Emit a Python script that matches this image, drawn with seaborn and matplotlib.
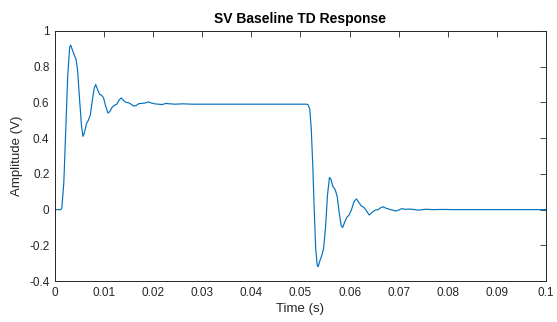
import matplotlib
matplotlib.use("Agg")
import matplotlib.pyplot as plt
import seaborn as sns
import pandas as pd

# Time-domain step response samples (time in seconds, amplitude in volts)
time_s = [
    0.0, 0.0012, 0.0014, 0.0018, 0.0022, 0.0026, 0.0030, 0.0032, 0.0036, 0.0040,
    0.0043, 0.0046, 0.0050, 0.0054, 0.0057, 0.0060, 0.0064, 0.0068, 0.0072, 0.0076,
    0.0080, 0.0083, 0.0087, 0.0091, 0.0095, 0.0099, 0.0103, 0.0108, 0.0112, 0.0117,
    0.0122, 0.0126, 0.0131, 0.0135, 0.0140, 0.0145, 0.0150, 0.0155, 0.0160, 0.0165,
    0.0171, 0.0178, 0.0184, 0.0190, 0.0196, 0.0203, 0.0210, 0.0218, 0.0226, 0.0234,
    0.0245, 0.0260, 0.0280, 0.0300, 0.0513, 0.0516, 0.0519, 0.0522, 0.0525, 0.0528,
    0.0531, 0.0534, 0.0536, 0.0539, 0.0543, 0.0547, 0.0551, 0.0555, 0.0559, 0.0562,
    0.0566, 0.0571, 0.0575, 0.0579, 0.0583, 0.0586, 0.0590, 0.0594, 0.0599, 0.0604,
    0.0609, 0.0614, 0.0619, 0.0624, 0.0629, 0.0634, 0.0640, 0.0646, 0.0652, 0.0658,
    0.0663, 0.0668, 0.0674, 0.0680, 0.0688, 0.0694, 0.0700, 0.0706, 0.0714, 0.0723,
    0.0733, 0.0740, 0.0755, 0.0770, 0.0790, 0.0810, 0.1000,
]
amplitude_v = [
    0.0, 0.0, 0.01, 0.15, 0.45, 0.75, 0.91, 0.92, 0.89, 0.86,
    0.84, 0.78, 0.62, 0.47, 0.41, 0.43, 0.48, 0.50, 0.53, 0.61,
    0.68, 0.70, 0.67, 0.645, 0.64, 0.625, 0.58, 0.54, 0.55, 0.575,
    0.585, 0.59, 0.615, 0.625, 0.61, 0.60, 0.598, 0.59, 0.58, 0.582,
    0.593, 0.595, 0.597, 0.603, 0.597, 0.592, 0.590, 0.588, 0.594, 0.592,
    0.590, 0.592, 0.590, 0.590, 0.590, 0.585, 0.56, 0.45, 0.25, 0.0,
    -0.22, -0.31, -0.32, -0.29, -0.26, -0.22, -0.10, 0.08, 0.18, 0.17,
    0.13, 0.11, 0.07, -0.02, -0.09, -0.10, -0.07, -0.045, -0.03, 0.0,
    0.045, 0.06, 0.04, 0.02, 0.013, -0.005, -0.03, -0.015, -0.003, 0.0,
    0.01, 0.016, 0.008, 0.003, -0.003, -0.008, -0.002, 0.005, 0.002, 0.003,
    0.0, -0.003, 0.002, 0.0, 0.001, 0.0, 0.0,
]

x_ticks = [0, 0.01, 0.02, 0.03, 0.04, 0.05, 0.06, 0.07, 0.08, 0.09, 0.1]
x_tick_labels = ["0", "0.01", "0.02", "0.03", "0.04", "0.05", "0.06", "0.07", "0.08", "0.09", "0.1"]
y_ticks = [-0.4, -0.2, 0, 0.2, 0.4, 0.6, 0.8, 1]
y_tick_labels = ["-0.4", "-0.2", "0", "0.2", "0.4", "0.6", "0.8", "1"]

sns.set_style("white")
plt.rcParams["font.family"] = ["Liberation Sans", "DejaVu Sans"]

df = pd.DataFrame({"Time (s)": time_s, "Amplitude (V)": amplitude_v})

fig = plt.figure(figsize=(5.57, 3.22), dpi=100)
ax = fig.add_axes([0.0987, 0.127, 0.8815, 0.777])

sns.lineplot(data=df, x="Time (s)", y="Amplitude (V)", ax=ax,
             color="#0072BD", linewidth=0.85, sort=False, estimator=None)

ax.set_xlim(0, 0.1)
ax.set_ylim(-0.4, 1)
ax.set_xticks(x_ticks)
ax.set_xticklabels(x_tick_labels)
ax.set_yticks(y_ticks)
ax.set_yticklabels(y_tick_labels)

edge = "#262626"
for side in ax.spines.values():
    side.set_visible(True)
    side.set_color(edge)
    side.set_linewidth(0.7)
ax.tick_params(direction="in", top=True, right=True, length=4, width=0.6,
               colors=edge, labelsize=8.5, pad=4)

ax.set_xlabel("Time (s)", fontsize=9.5, color=edge, labelpad=3)
ax.set_ylabel("Amplitude (V)", fontsize=9.5, color=edge, labelpad=4)
ax.set_title("SV Baseline TD Response", fontsize=10, fontweight="bold", color="black", pad=6)

fig.savefig("out.png", dpi=100)
